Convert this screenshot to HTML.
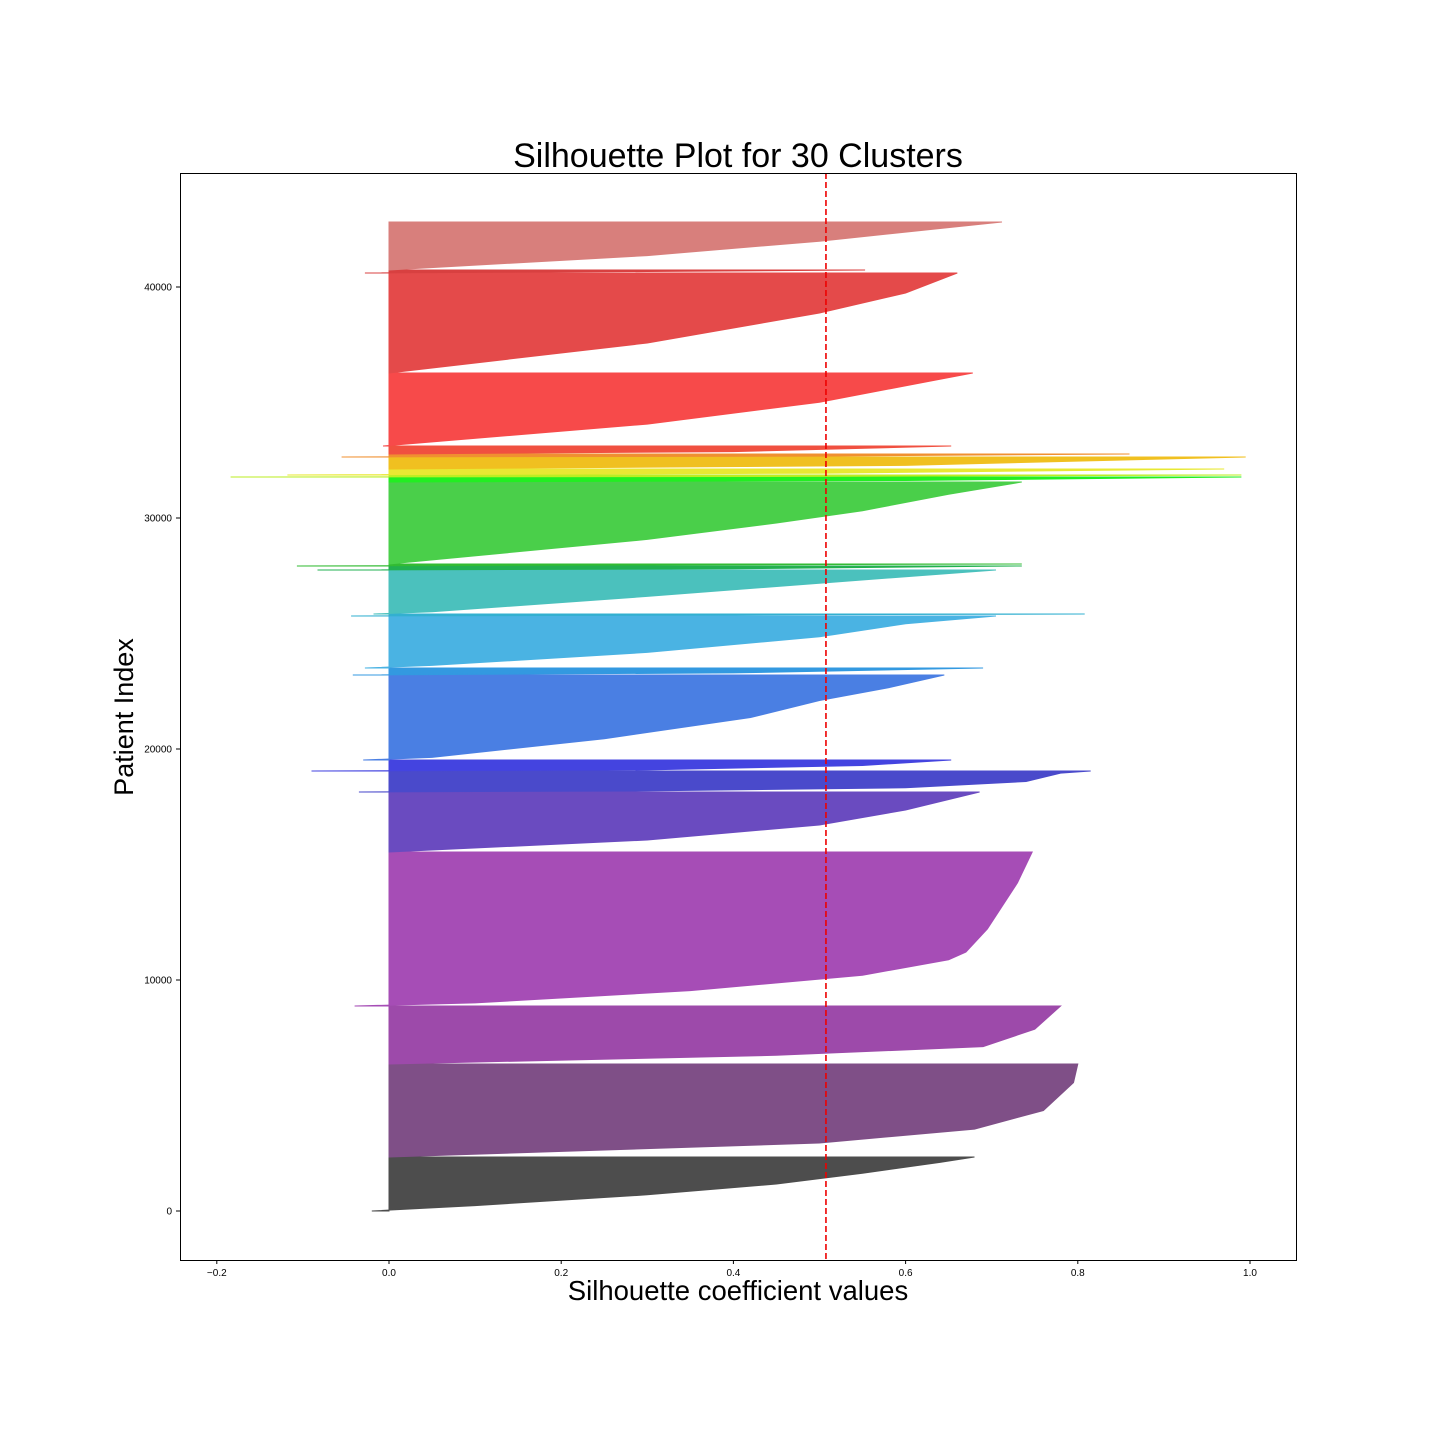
<!DOCTYPE html>
<html><head><meta charset="utf-8"><style>
body{margin:0;background:#fff;}
svg text{font-family:"Liberation Sans","DejaVu Sans",sans-serif;}
</style></head><body>
<svg id="chart" width="1440" height="1440" viewBox="0 0 1440 1440" xmlns="http://www.w3.org/2000/svg">
<rect width="1440" height="1440" fill="#fff"/>
<text x="738" y="167" font-size="34" text-anchor="middle">Silhouette Plot for 30 Clusters</text>
<text x="738" y="1300" font-size="27.5" text-anchor="middle">Silhouette coefficient values</text>
<text x="0" y="0" font-size="27" text-anchor="middle" transform="translate(133,717) rotate(-90)">Patient Index</text>
<g id="marks"></g>
<rect x="180.5" y="173.5" width="1116" height="1087" fill="none" stroke="#000" stroke-width="1"/>
<g id="axes"></g>
</svg>
<script>
// Cluster bounds (lower, upper) in patient index
const clusterLower = [0,2338,6364,8874,15541,18139,19048,19524,23203,23506,25758,25844,27749,27922,28009,31558,31775,31861,32121,32641,32771,33117,36277,40606,40736];
const clusterUpper = [2338,6364,8874,15541,18139,19048,19524,23203,23506,25758,25844,27749,27922,28009,31558,31775,31861,32121,32641,32771,33117,36277,40606,40736,42814];
// Profile fractions and silhouette values per cluster
const clusterFracs = [
 [0,0.1,0.3,0.5,0.7,0.9,1],
 [0,0.15,0.3,0.5,0.8,1],
 [0,0.15,0.3,0.6,1],
 [0,0.02,0.1,0.2,0.3,0.35,0.5,0.8,1],
 [0,0.2,0.45,0.7,1],
 [0,0.05,0.2,0.5,0.9,1],
 [0,0.1,0.5,1],
 [0,0.03,0.25,0.5,0.7,0.85,1],
 [0,0.3,1],
 [0,0.05,0.3,0.6,0.85,1],
 [0,0.5,1],
 [0,0.05,0.4,0.7,1],
 [0,0.3,1],
 [0,0.5,1],
 [0,0.3,0.5,0.65,0.85,1],
 [0,0.3,1],
 [0,0.3,1],
 [0,0.3,1],
 [0,0.3,1],
 [0,0.3,1],
 [0,0.3,1],
 [0,0.3,0.6,1],
 [0,0.3,0.6,0.8,1],
 [0,0.5,1],
 [0,0.3,0.6,1]
];
const clusterValues = [
 [-0.02,0.1,0.3,0.45,0.55,0.64,0.68],
 [0,0.5,0.68,0.76,0.795,0.8],
 [0,0.45,0.69,0.75,0.78],
 [-0.04,0.1,0.35,0.55,0.65,0.67,0.695,0.73,0.747],
 [0,0.3,0.5,0.6,0.686],
 [-0.035,0.3,0.6,0.74,0.78,0.815],
 [-0.09,0.3,0.55,0.653],
 [-0.03,0.05,0.25,0.42,0.5,0.58,0.645],
 [-0.042,0.4,0.69],
 [-0.028,0.05,0.3,0.5,0.6,0.705],
 [-0.044,0.4,0.808],
 [-0.018,0.05,0.3,0.5,0.705],
 [-0.083,0.4,0.735],
 [-0.107,0.3,0.735],
 [0,0.3,0.45,0.55,0.65,0.735],
 [0,0.6,0.99],
 [-0.184,0.5,0.99],
 [-0.118,0.5,0.97],
 [0,0.6,0.995],
 [-0.055,0.5,0.86],
 [0,0.4,0.653],
 [-0.007,0.3,0.5,0.678],
 [0,0.3,0.5,0.6,0.66],
 [-0.028,0.3,0.553],
 [0,0.3,0.5,0.712]
];
const clusterColors = ["#4d4d4d","#7f4f87","#9d4aaa","#a64db6","#6a4bc0","#4a4acb","#4444e0","#4a7fe3","#3399e0","#4ab3e3","#33b0d0","#4bc1bd","#22b050","#33bb33","#4acf4a","#22ee22","#bbee22","#e8e833","#f0c020","#f09030","#f05040","#f74a4a","#e44a4a","#d84040","#d87f7c"];
const avgScore = 0.5075;
const xTicks = [-0.2,0,0.2,0.4,0.6,0.8,1.0];
const xTickLabels = ["−0.2","0.0","0.2","0.4","0.6","0.8","1.0"];
const yTicks = [0,10000,20000,30000,40000];
const yTickLabels = ["0","10000","20000","30000","40000"];

const X = v => 389 + v*861;
const Y = d => 1211 - d*0.0231;
const NS = "http://www.w3.org/2000/svg";
const marks = document.getElementById('marks');
const axes = document.getElementById('axes');

for (let i=0;i<clusterLower.length;i++){
  const lo=clusterLower[i], hi=clusterUpper[i];
  const pts=[[X(0),Y(lo)]];
  clusterFracs[i].forEach((f,j)=>pts.push([X(clusterValues[i][j]),Y(lo+f*(hi-lo))]));
  pts.push([X(0),Y(hi)]);
  const p=document.createElementNS(NS,'polygon');
  p.setAttribute('points',pts.map(q=>q[0].toFixed(1)+','+q[1].toFixed(1)).join(' '));
  p.setAttribute('fill',clusterColors[i]);
  p.setAttribute('stroke',clusterColors[i]);
  p.setAttribute('stroke-width','1');
  
  
  marks.appendChild(p);
}
const avg=document.createElementNS(NS,'line');
avg.setAttribute('x1',X(avgScore));avg.setAttribute('x2',X(avgScore));
avg.setAttribute('y1',173);avg.setAttribute('y2',1260);
avg.setAttribute('stroke','#e00');avg.setAttribute('stroke-width','1.6');
avg.setAttribute('stroke-dasharray','6,3');


marks.appendChild(avg);

xTicks.forEach((t,i)=>{
  const l=document.createElementNS(NS,'line');
  l.setAttribute('x1',X(t));l.setAttribute('x2',X(t));l.setAttribute('y1',1260);l.setAttribute('y2',1264);
  l.setAttribute('stroke','#000');
  
  
  axes.appendChild(l);
  const tx=document.createElementNS(NS,'text');
  tx.setAttribute('x',X(t));tx.setAttribute('y',1276);tx.setAttribute('font-size','10');tx.setAttribute('text-anchor','middle');
  tx.textContent=xTickLabels[i];
  
  
  axes.appendChild(tx);
});
yTicks.forEach((t,i)=>{
  const l=document.createElementNS(NS,'line');
  l.setAttribute('x1',176);l.setAttribute('x2',180);l.setAttribute('y1',Y(t));l.setAttribute('y2',Y(t));
  l.setAttribute('stroke','#000');
  
  
  axes.appendChild(l);
  const tx=document.createElementNS(NS,'text');
  tx.setAttribute('x',172);tx.setAttribute('y',Y(t)+3.5);tx.setAttribute('font-size','10');tx.setAttribute('text-anchor','end');
  tx.textContent=yTickLabels[i];
  
  
  axes.appendChild(tx);
});
</script>
</body></html>
